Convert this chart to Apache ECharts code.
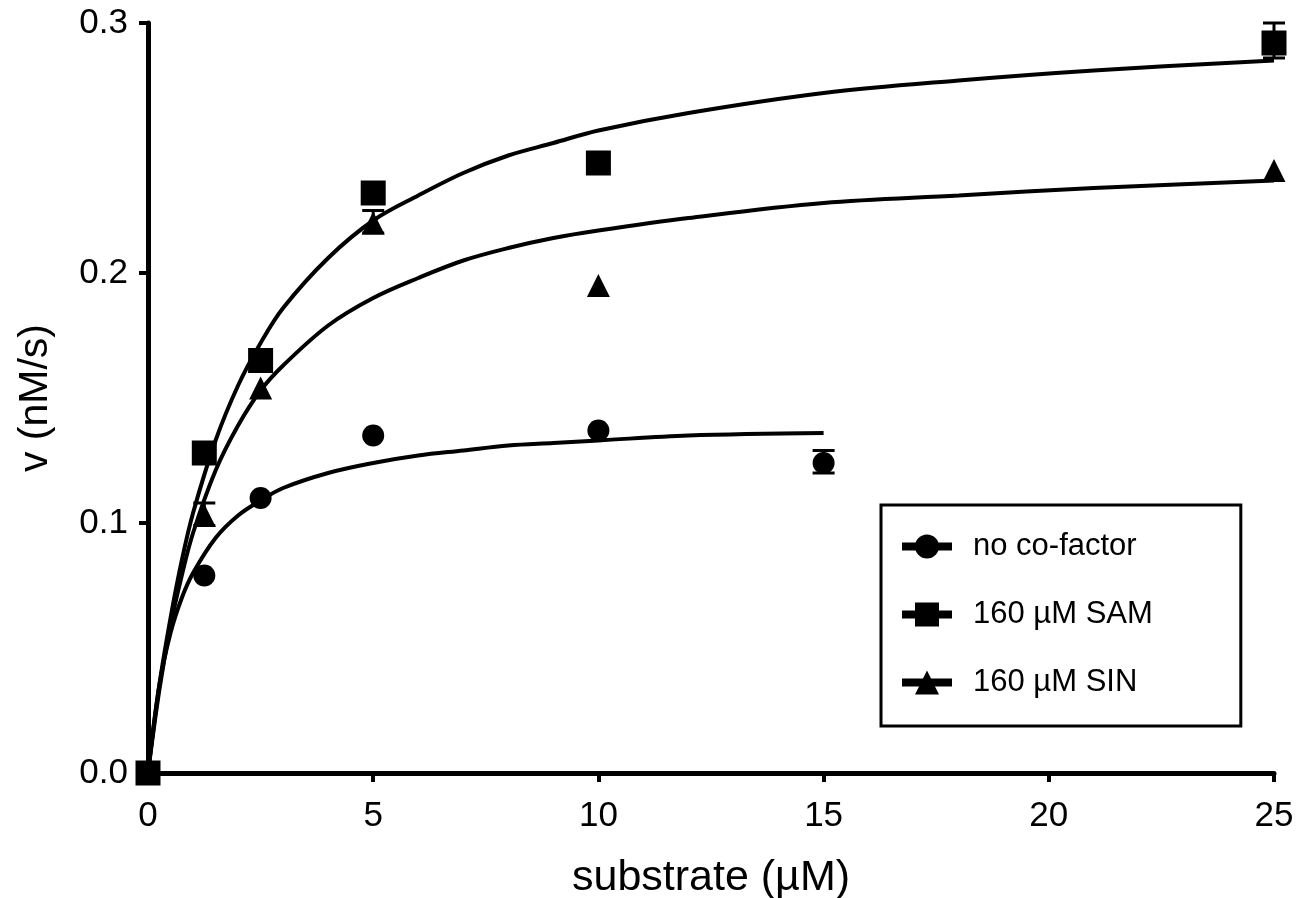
<!DOCTYPE html>
<html>
<head>
<meta charset="utf-8">
<title>substrate kinetics</title>
<script src="https://cdn.jsdelivr.net/npm/echarts@6/dist/echarts.min.js"></script>
<style>
  html, body { margin: 0; padding: 0; background: #fff; }
  #chart { width: 1307px; height: 898px; }
</style>
</head>
<body>
<div id="chart"></div>
<script>
// measured points (substrate uM, v nM/s)
var ptsNoCo = [[0, 0], [1.25, 0.079], [2.5, 0.110], [5, 0.135], [10, 0.137], [15, 0.124]];
var ptsSAM  = [[0, 0], [1.25, 0.128], [2.5, 0.165], [5, 0.232], [10, 0.244], [25, 0.292]];
var ptsSIN  = [[0, 0], [1.25, 0.103], [2.5, 0.154], [5, 0.220], [10, 0.195], [25, 0.241]];

// error bars: [x, low, high]
var errNoCo = [[15, 0.120, 0.129]];
var errSAM  = [[5, 0.228, 0.236], [25, 0.286, 0.300]];
var errSIN  = [[1.25, 0.099, 0.108], [5, 0.216, 0.225]];

// fitted curves
var fitX    = [0, 0.25, 0.5, 0.75, 1, 1.5, 2, 2.5, 3, 4, 5, 6, 7, 8, 9, 10, 12, 15, 18, 21, 25];
var fitNoCo = [0, 0.035, 0.056, 0.070, 0.080, 0.094, 0.103, 0.109, 0.114, 0.120, 0.124, 0.127, 0.129, 0.131, 0.132, 0.133, 0.135, 0.136];
var fitSAM  = [0, 0.035, 0.062, 0.085, 0.104, 0.133, 0.155, 0.172, 0.186, 0.206, 0.221, 0.231, 0.240, 0.247, 0.252, 0.257, 0.264, 0.272, 0.277, 0.281, 0.285];
var fitSIN  = [0, 0.033, 0.059, 0.079, 0.096, 0.121, 0.139, 0.153, 0.163, 0.179, 0.190, 0.198, 0.205, 0.210, 0.214, 0.217, 0.222, 0.228, 0.231, 0.234, 0.237];

var xTicks = [0, 5, 10, 15, 20, 25];
var yTicks = [0, 0.1, 0.2, 0.3];

var names = ['no co-factor', '160 \u00b5M SAM', '160 \u00b5M SIN'];
var symbols = ['circle', 'rect', 'triangle'];
var symSizes = [22, 25, 23];

function pairs(xs, ys) {
  var out = [];
  for (var i = 0; i < ys.length; i++) out.push([xs[i], ys[i]]);
  return out;
}

function errRender(params, api) {
  var x = api.value(0);
  var lo = api.coord([x, api.value(1)]);
  var hi = api.coord([x, api.value(2)]);
  var w = 11;
  var st = { stroke: '#000', lineWidth: 3 };
  return {
    type: 'group',
    children: [
      { type: 'line', shape: { x1: lo[0], y1: lo[1], x2: hi[0], y2: hi[1] }, style: st },
      { type: 'line', shape: { x1: lo[0] - w, y1: lo[1], x2: lo[0] + w, y2: lo[1] }, style: st },
      { type: 'line', shape: { x1: hi[0] - w, y1: hi[1], x2: hi[0] + w, y2: hi[1] }, style: st }
    ]
  };
}

var fits = [fitNoCo, fitSAM, fitSIN];
var pts = [ptsNoCo, ptsSAM, ptsSIN];
var errs = [errNoCo, errSAM, errSIN];
var series = [];
for (var i = 0; i < 3; i++) {
  series.push({
    name: names[i], type: 'line', smooth: 0.35, showSymbol: false,
    symbol: symbols[i], data: pairs(fitX, fits[i]),
    lineStyle: { color: '#000', width: 4 }, itemStyle: { color: '#000' },
    silent: true, z: 2
  });
}
for (var j = 0; j < 3; j++) {
  series.push({
    name: names[j], type: 'scatter', symbol: symbols[j], symbolSize: symSizes[j],
    data: pts[j], itemStyle: { color: '#000', opacity: 1 }, z: 3
  });
  series.push({
    name: names[j], type: 'custom', renderItem: errRender, data: errs[j], z: 3
  });
}

var font = '"Liberation Sans", Arial, sans-serif';
var chart = echarts.init(document.getElementById('chart'));
chart.setOption({
  animation: false,
  backgroundColor: '#fff',
  grid: { left: 148, right: 33, top: 23, bottom: 125, containLabel: false, outerBoundsMode: 'none' },
  legend: {
    orient: 'vertical', left: 881, top: 505,
    data: names,
    borderColor: '#000', borderWidth: 3, borderRadius: 0,
    padding: [26, 88, 28, 17],
    itemWidth: 50, itemHeight: 30, itemGap: 37,
    lineStyle: { width: 8, color: '#000' },
    itemStyle: { color: '#000' },
    textStyle: { fontFamily: font, fontSize: 31, color: '#000', padding: [0, 0, 0, 16] },
    selectedMode: false
  },
  xAxis: {
    type: 'value', min: 0, max: 25, interval: 5,
    name: 'substrate (\u00b5M)', nameLocation: 'middle', nameGap: 84,
    nameTextStyle: { fontFamily: font, fontSize: 43, color: '#000' },
    axisLine: { show: true, onZero: false, lineStyle: { color: '#000', width: 5 } },
    axisTick: { show: true, length: 9, lineStyle: { color: '#000', width: 4 } },
    axisLabel: { fontFamily: font, fontSize: 35, color: '#000', margin: 26,
      formatter: function (v) { return xTicks.indexOf(v) >= 0 ? String(v) : ''; } },
    splitLine: { show: false }
  },
  yAxis: {
    type: 'value', min: 0, max: 0.3, interval: 0.1,
    name: 'v (nM/s)', nameLocation: 'middle', nameGap: 92, nameRotate: 90,
    nameTextStyle: { fontFamily: font, fontSize: 41, color: '#000' },
    axisLine: { show: true, onZero: false, lineStyle: { color: '#000', width: 5 } },
    axisTick: { show: true, length: 9, lineStyle: { color: '#000', width: 4 } },
    axisLabel: { fontFamily: font, fontSize: 35, color: '#000', margin: 20,
      formatter: function (v) { return v.toFixed(1); } },
    splitLine: { show: false }
  },
  series: series
});
</script>
</body>
</html>
